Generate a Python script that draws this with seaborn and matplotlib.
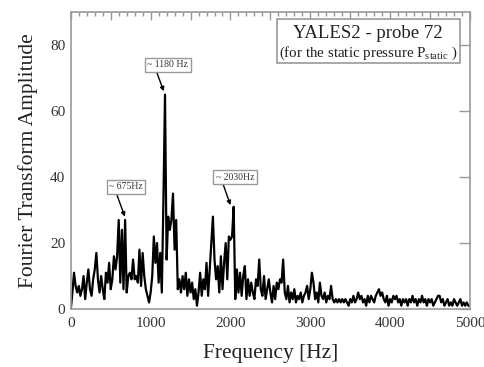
import numpy as np
import pandas as pd
import seaborn as sns
import matplotlib.pyplot as plt
import matplotlib.ticker as mtick
from matplotlib.patches import Rectangle

sns.set_theme(style="white")
plt.rcParams["font.family"] = ["Liberation Serif", "DejaVu Serif"]
plt.rcParams["mathtext.fontset"] = "custom"
plt.rcParams["mathtext.rm"] = "Liberation Serif"

freq_step = 20
amplitude = [
    0, 5, 11, 7, 5, 7, 4, 6, 10, 3,
    8, 12, 6, 4, 9, 12, 17, 9, 5, 10,
    6, 3, 11, 8, 14, 6, 9, 16, 12, 16,
    27, 8, 24, 6, 27, 5, 10, 11, 9, 15,
    9, 10, 8, 18, 7, 17, 10, 6, 4, 2,
    5, 10, 22, 14, 20, 8, 17, 5, 33, 65,
    15, 28, 24, 27, 35, 18, 27, 6, 9, 5,
    10, 6, 11, 4, 9, 5, 8, 3, 6, 1,
    5, 11, 4, 9, 6, 14, 4, 12, 20, 28,
    15, 9, 13, 5, 16, 6, 14, 20, 9, 22,
    21, 22, 31, 3, 12, 5, 11, 4, 10, 13,
    3, 9, 4, 8, 5, 3, 9, 7, 15, 6,
    4, 10, 3, 6, 9, 5, 2, 7, 3, 8,
    6, 9, 8, 15, 5, 3, 7, 2, 5, 3,
    6, 2, 4, 3, 5, 2, 4, 5, 7, 3,
    6, 11, 8, 3, 5, 2, 8, 4, 3, 5,
    2, 4, 3, 7, 3, 2, 3, 2, 3, 2,
    3, 2, 3, 2, 1, 3, 2, 4, 2, 3,
    5, 3, 4, 2, 3, 1, 4, 2, 4, 3,
    2, 4, 5, 6, 4, 5, 3, 2, 4, 1,
    3, 2, 4, 3, 4, 2, 3, 1, 3, 2,
    3, 1, 3, 2, 4, 2, 3, 1, 3, 2,
    4, 2, 3, 1, 3, 2, 3, 1, 2, 3,
    4, 4, 2, 3, 1, 2, 3, 1, 2, 1,
    3, 2, 1, 2, 3, 1, 2, 1, 2, 1,
    1,
]
frequency = [i * freq_step for i in range(len(amplitude))]

peak_labels = ["~ 675Hz", "~ 1180 Hz", "~ 2030Hz"]
peak_freq = [677, 1165, 2000]
peak_amp = [28, 66, 31.5]
label_freq = [689, 1216, 2055]
label_amp = [37, 74, 40]

df = pd.DataFrame({"freq": frequency, "amp": amplitude})

fig = plt.figure(figsize=(4.85, 3.67), dpi=100)
ax = fig.add_axes([0.146, 0.158, 0.823, 0.809])

sns.lineplot(data=df, x="freq", y="amp", color="black", linewidth=1.6, ax=ax)

ax.set_xlim(0, 5000)
ax.set_ylim(0, 90)
ax.xaxis.set_major_locator(mtick.MultipleLocator(500))
ax.xaxis.set_major_formatter(mtick.FuncFormatter(
    lambda v, p: f"{int(v)}" if v % 1000 == 0 else ""))
ax.xaxis.set_minor_locator(mtick.MultipleLocator(100))
ax.yaxis.set_major_locator(mtick.MultipleLocator(20))
ax.tick_params(which="both", direction="in", top=True, right=True,
               color="#999999", labelsize=11, labelcolor="#333333")
ax.tick_params(axis="x", which="major", length=6, width=1, pad=6)
ax.tick_params(axis="y", which="major", length=8, width=1, pad=4)
ax.tick_params(which="minor", length=3, width=1)
for s in ax.spines.values():
    s.set_color("#999999")
    s.set_linewidth(1.2)

ax.set_xlabel("Frequency [Hz]", fontsize=15.5, color="#222222", labelpad=10)
ax.set_ylabel("Fourier Transform Amplitude", fontsize=15.5, color="#222222", labelpad=9)

relx = [0.2, 0.2, 0.17]
for lab, px, py, tx, ty, rx in zip(peak_labels, peak_freq, peak_amp, label_freq, label_amp, relx):
    ax.annotate(lab, xy=(px, py), xytext=(tx, ty), ha="center", va="center",
                fontsize=7, color="#333333",
                bbox=dict(boxstyle="square,pad=0.25", fc="white", ec="#999999", lw=1),
                arrowprops=dict(arrowstyle="-|>", color="black", lw=1,
                                mutation_scale=6, shrinkA=0, shrinkB=0,
                                relpos=(rx, 0)))

ax.add_patch(Rectangle((0.516, 0.828), 0.459, 0.148, transform=ax.transAxes,
                       fc="white", ec="#999999", lw=1.2, zorder=3))
ax.text(0.745, 0.929, "YALES2 - probe 72", transform=ax.transAxes,
        ha="center", va="center", fontsize=13.5, color="#222222", zorder=4)
ax.text(0.745, 0.862, r"(for the static pressure P$_{\rm static}$ )",
        transform=ax.transAxes, ha="center", va="center", fontsize=10.8,
        color="#222222", zorder=4)

fig.savefig("out.png", dpi=100)
